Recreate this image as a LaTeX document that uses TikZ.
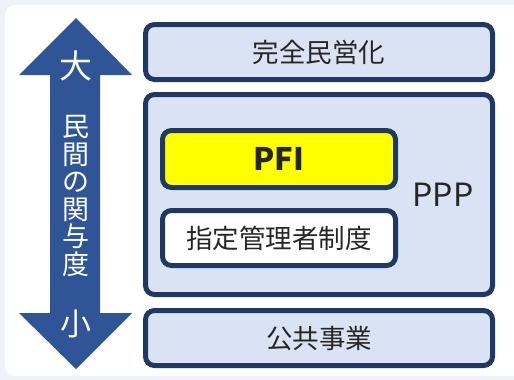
\documentclass[tikz,border=0pt]{standalone}
\usepackage{fontspec}
\setmainfont{Noto Sans CJK JP}
\definecolor{arrowblue}{RGB}{47,85,151}
\definecolor{boxnavy}{RGB}{31,56,100}
\definecolor{boxfill}{RGB}{218,227,243}
\definecolor{pagebg}{RGB}{239,243,249}
\definecolor{pfiyellow}{RGB}{255,255,0}
\begin{document}
\begin{tikzpicture}[x=1pt,y=-1pt,
	level/.style={draw=boxnavy,line width=5pt,rounded corners=9pt,fill=boxfill,inner sep=0pt,
		text=black!85,font=\fontsize{26.5}{30}\selectfont},
	arrowtext/.style={text=white,inner sep=0pt}]
	% background
	\fill[pagebg] (0,0) rectangle (514,380);
	\useasboundingbox (0,0) rectangle (514,380);
	\fill[white,rounded corners=10pt] (5,5) rectangle (530,376);
	% double arrow
	\fill[arrowblue] (76,18) -- (132,75) -- (100,75) -- (100,313) -- (132,313) -- (76,369)
		-- (19,313) -- (50,313) -- (50,75) -- (19,75) -- cycle;
	\node[arrowtext,font=\fontsize{33}{33}\selectfont] (big) at (76,66) {大};
	\node[arrowtext,font=\fontsize{27}{27.5}\selectfont,align=center] (degree) at (76,196) {民\\間\\の\\関\\与\\度};
	\node[arrowtext,font=\fontsize{31}{31}\selectfont] (small) at (76,324) {小};
	% levels
	\node[level,minimum width=347pt,minimum height=55pt] (full) at (319,52) {完全民営化};
	\node[level,minimum width=347pt,minimum height=200pt] (ppp) at (319,194.5) {};
	\node[level,fill=pfiyellow,minimum width=233pt,minimum height=57pt,font=\fontsize{31}{30}\selectfont\bfseries] (pfi) at (279,159) {PFI};
	\node[level,fill=white,minimum width=233pt,minimum height=55pt] (shitei) at (279,238) {指定管理者制度};
	\node[text=black!85,font=\fontsize{32}{30}\selectfont] (ppplabel) at (443,195) {PPP};
	\node[level,minimum width=347pt,minimum height=55pt] (public) at (319,338) {公共事業};
\end{tikzpicture}
\end{document}
